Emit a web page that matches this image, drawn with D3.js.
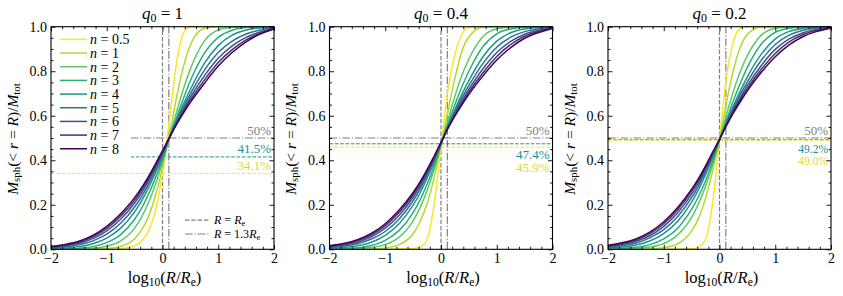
<!DOCTYPE html>
<html>
<head>
<meta charset="utf-8">
<script src="https://cdn.jsdelivr.net/npm/d3@7"></script>
<style>
  body { margin: 0; background: #fff; }
  svg { display: block; }
  svg text { font-family: "Liberation Serif", "Times New Roman", "DejaVu Serif", serif !important; }
</style>
</head>
<body>
<svg id="chart" width="843" height="296"></svg>
<script>
// log10(R/Re) sample positions
const logR = [-2, -1.75, -1.5, -1.25, -1, -0.75, -0.5, -0.375, -0.25, -0.125, 0, 0.125, 0.25, 0.375, 0.5, 0.75, 1, 1.25, 1.5, 1.75, 2]

const sersicN = ["0.5", "1", "2", "3", "4", "5", "6", "7", "8"]
const nColors = ["#fde725", "#addc30", "#5ec962", "#28ae80", "#21918c", "#2c728e", "#3b528b", "#472d7b", "#440154"]
const q0Labels = ["1", "0.4", "0.2"]

// M_sph(<r=R)/M_tot, one row per n
const fracQ1 = [
  [0, 0, 0, 0, 0, 0.003, 0.016, 0.037, 0.083, 0.175, 0.341, 0.582, 0.834, 0.971, 0.999, 1, 1, 1, 1, 1, 1],
  [0, 0, 0, 0.001, 0.004, 0.013, 0.047, 0.087, 0.148, 0.243, 0.365, 0.515, 0.68, 0.82, 0.918, 0.993, 1, 1, 1, 1, 1],
  [0, 0.001, 0.002, 0.005, 0.014, 0.038, 0.095, 0.145, 0.21, 0.293, 0.39, 0.505, 0.615, 0.72, 0.81, 0.935, 0.985, 0.997, 1, 1, 1],
  [0.001, 0.002, 0.005, 0.012, 0.03, 0.066, 0.135, 0.185, 0.248, 0.322, 0.405, 0.502, 0.59, 0.677, 0.757, 0.88, 0.952, 0.984, 0.996, 0.999, 1],
  [0.003, 0.006, 0.012, 0.025, 0.05, 0.095, 0.168, 0.217, 0.277, 0.345, 0.415, 0.5, 0.578, 0.652, 0.718, 0.835, 0.915, 0.962, 0.985, 0.995, 0.999],
  [0.006, 0.011, 0.02, 0.038, 0.068, 0.117, 0.19, 0.237, 0.294, 0.358, 0.425, 0.501, 0.572, 0.638, 0.698, 0.804, 0.884, 0.935, 0.967, 0.985, 0.996],
  [0.009, 0.016, 0.027, 0.048, 0.083, 0.135, 0.208, 0.254, 0.309, 0.369, 0.432, 0.502, 0.567, 0.627, 0.682, 0.779, 0.858, 0.914, 0.952, 0.976, 0.993],
  [0.011, 0.019, 0.032, 0.056, 0.094, 0.149, 0.221, 0.267, 0.319, 0.377, 0.438, 0.502, 0.563, 0.619, 0.67, 0.76, 0.839, 0.897, 0.941, 0.97, 0.992],
  [0.013, 0.022, 0.036, 0.062, 0.103, 0.16, 0.232, 0.277, 0.328, 0.384, 0.443, 0.503, 0.56, 0.612, 0.66, 0.745, 0.823, 0.884, 0.932, 0.967, 0.99]
]
const fracQ04 = [
  [0, 0, 0, 0, 0, 0.001, 0.004, 0.01, 0.045, 0.2, 0.459, 0.72, 0.875, 0.965, 0.996, 1, 1, 1, 1, 1, 1],
  [0, 0, 0.0005, 0.0015, 0.006, 0.021, 0.07, 0.125, 0.205, 0.32, 0.465, 0.62, 0.77, 0.89, 0.955, 0.998, 1, 1, 1, 1, 1],
  [0.001, 0.0015, 0.003, 0.008, 0.021, 0.055, 0.128, 0.187, 0.264, 0.356, 0.468, 0.58, 0.688, 0.782, 0.855, 0.955, 0.991, 0.998, 1, 1, 1],
  [0.0015, 0.003, 0.007, 0.017, 0.04, 0.085, 0.165, 0.222, 0.292, 0.373, 0.471, 0.563, 0.65, 0.73, 0.8, 0.91, 0.968, 0.99, 0.998, 1, 1],
  [0.004, 0.008, 0.016, 0.032, 0.063, 0.115, 0.198, 0.253, 0.32, 0.39, 0.474, 0.553, 0.628, 0.697, 0.758, 0.864, 0.935, 0.973, 0.99, 0.997, 1],
  [0.008, 0.014, 0.025, 0.046, 0.08, 0.136, 0.218, 0.27, 0.333, 0.4, 0.476, 0.55, 0.618, 0.68, 0.735, 0.834, 0.908, 0.953, 0.978, 0.991, 0.997],
  [0.011, 0.019, 0.032, 0.056, 0.095, 0.153, 0.234, 0.284, 0.344, 0.407, 0.478, 0.547, 0.61, 0.667, 0.718, 0.81, 0.884, 0.934, 0.966, 0.984, 0.995],
  [0.014, 0.023, 0.038, 0.064, 0.106, 0.166, 0.246, 0.295, 0.352, 0.413, 0.479, 0.545, 0.604, 0.657, 0.706, 0.792, 0.866, 0.92, 0.957, 0.979, 0.994],
  [0.016, 0.026, 0.043, 0.071, 0.115, 0.176, 0.255, 0.303, 0.358, 0.418, 0.48, 0.543, 0.599, 0.649, 0.696, 0.778, 0.85, 0.906, 0.948, 0.974, 0.992]
]
const fracQ02 = [
  [0, 0, 0, 0, 0, 0, 0.002, 0.01, 0.045, 0.205, 0.49, 0.775, 0.935, 0.993, 1, 1, 1, 1, 1, 1, 1],
  [0, 0, 0.0005, 0.002, 0.007, 0.025, 0.082, 0.14, 0.23, 0.35, 0.491, 0.66, 0.805, 0.91, 0.965, 0.999, 1, 1, 1, 1, 1],
  [0.001, 0.002, 0.004, 0.01, 0.026, 0.065, 0.143, 0.205, 0.283, 0.377, 0.491, 0.605, 0.71, 0.8, 0.87, 0.962, 0.993, 0.999, 1, 1, 1],
  [0.002, 0.004, 0.009, 0.021, 0.047, 0.095, 0.18, 0.237, 0.308, 0.393, 0.491, 0.58, 0.668, 0.747, 0.817, 0.922, 0.975, 0.993, 0.999, 1, 1],
  [0.005, 0.01, 0.019, 0.037, 0.07, 0.126, 0.212, 0.268, 0.336, 0.41, 0.492, 0.571, 0.645, 0.713, 0.775, 0.877, 0.945, 0.979, 0.993, 0.998, 1],
  [0.009, 0.016, 0.028, 0.051, 0.088, 0.147, 0.232, 0.285, 0.349, 0.419, 0.493, 0.566, 0.634, 0.696, 0.752, 0.849, 0.92, 0.962, 0.984, 0.994, 0.998],
  [0.012, 0.021, 0.036, 0.061, 0.103, 0.164, 0.248, 0.299, 0.36, 0.426, 0.493, 0.562, 0.626, 0.683, 0.735, 0.826, 0.898, 0.945, 0.973, 0.988, 0.996],
  [0.015, 0.025, 0.042, 0.07, 0.115, 0.178, 0.261, 0.311, 0.369, 0.431, 0.494, 0.559, 0.619, 0.673, 0.722, 0.809, 0.88, 0.932, 0.965, 0.984, 0.995],
  [0.018, 0.029, 0.047, 0.077, 0.124, 0.188, 0.27, 0.319, 0.375, 0.435, 0.494, 0.556, 0.613, 0.664, 0.712, 0.795, 0.865, 0.918, 0.956, 0.979, 0.993]
]

// fractions at R = Re for n = 4 and n = 0.5, and the 50% level
const pctAtRe = [[0.415, 0.341], [0.474, 0.459], [0.492, 0.490]]
const pctText = [["41.5%", "34.1%"], ["47.4%", "45.9%"], ["49.2%", "49.0%"]]
const halfLevel = 0.5
const radiusRatios = [1, 1.3]

const xTicks = [-2, -1, 0, 1, 2]
const yTicks = [0, 0.2, 0.4, 0.6, 0.8, 1]

const panels = [fracQ1, fracQ04, fracQ02]
const panelLeft = [51, 329.5, 608]
const panelTop = 26.7
const pw = 223, ph = 222.6
const grey = "#808080"
const dashed = "4.4,1.9"
const dashDot = "7.7,1.9,1.2,1.9"
const serif = "'Liberation Serif', 'Times New Roman', 'DejaVu Serif', serif"

const svg = d3.select("#chart")

const x = d3.scaleLinear().domain([-2, 2]).range([0, pw])
const y = d3.scaleLinear().domain([0, 1]).range([ph, 0])

const line = d3.line()
  .x(d => x(d[0]))
  .y(d => y(d[1]))
  .curve(d3.curveMonotoneX)

const xMinor = d3.range(-2, 2.001, 0.2).filter(v => Math.abs(v - Math.round(v)) > 1e-6)
const yMinor = d3.range(0, 1.001, 0.05).filter(v => Math.abs(v * 5 - Math.round(v * 5)) > 1e-6)

function mathText(sel, parts, size) {
  // parts: [text, style] with style "i" italic, "s" subscript, "" upright
  sel.attr("font-family", serif)
  parts.forEach(([t, s]) => {
    const ts = sel.append("tspan").text(t)
    if (s === "i") ts.attr("font-style", "italic")
    if (s === "s") ts.attr("font-size", size * 0.7).attr("baseline-shift", "-22%")
  })
}

panels.forEach((frac, pi) => {
  const g = svg.append("g").attr("transform", `translate(${panelLeft[pi]},${panelTop})`)

  // reference lines
  radiusRatios.forEach((rr, k) => {
    g.append("line")
      .attr("x1", x(Math.log10(rr))).attr("x2", x(Math.log10(rr)))
      .attr("y1", y(0)).attr("y2", y(1))
      .attr("stroke", grey).attr("stroke-width", 1.2)
      .attr("stroke-dasharray", k === 0 ? dashed : dashDot)
  })
  g.append("line")
    .attr("x1", x(pi === 0 ? -0.57 : -2)).attr("x2", x(2))
    .attr("y1", y(halfLevel)).attr("y2", y(halfLevel))
    .attr("stroke", grey).attr("stroke-width", 1.2)
    .attr("stroke-dasharray", dashDot)
  const lvlColor = [nColors[4], nColors[0]]
  const txtColor = [nColors[4], "#e2d91f"]
  pctAtRe[pi].forEach((v, k) => {
    g.append("line")
      .attr("x1", x(-2)).attr("x2", x(2))
      .attr("y1", y(v)).attr("y2", y(v))
      .attr("stroke", lvlColor[k]).attr("stroke-width", 1)
      .attr("stroke-dasharray", "3.7,1.6")
  })

  // curves
  frac.forEach((row, i) => {
    g.append("path")
      .datum(logR.map((lx, j) => [lx, row[j]]))
      .attr("fill", "none")
      .attr("stroke", nColors[i])
      .attr("stroke-width", 1.5)
      .attr("d", line)
  })

  // percentage labels
  const lblX = pw - 3
  g.append("text").attr("x", lblX).attr("y", y(halfLevel) - 3).attr("font-family", serif)
    .attr("text-anchor", "end").attr("font-size", 13).style("fill", grey).text("50%")
  pctAtRe[pi].forEach((v, k) => {
    let yy
    if (pi === 0) yy = y(v) - 3.5
    else if (pi === 1) yy = y(pctAtRe[pi][0]) + (k === 0 ? 15 : 28.5)
    else yy = y(pctAtRe[pi][0]) + (k === 0 ? 13 : 25.5)
    g.append("text").attr("x", lblX).attr("y", yy).attr("font-family", serif)
      .attr("text-anchor", "end").attr("font-size", pi === 2 ? 11.5 : 13)
      .style("fill", txtColor[k]).text(pctText[pi][k])
  })

  // legends in first panel
  if (pi === 0) {
    g.append("rect").attr("x", 2).attr("y", 2).attr("width", 78).attr("height", 130)
      .attr("fill", "#fff")
    sersicN.forEach((n, i) => {
      const yy = 39.4 - panelTop + i * 13.67
      g.append("line").attr("x1", 9).attr("x2", 36).attr("y1", yy).attr("y2", yy)
        .attr("stroke", nColors[i]).attr("stroke-width", 1.5)
      const t = g.append("text").attr("x", 39).attr("y", yy).attr("dy", "0.35em").attr("font-size", 14)
      mathText(t, [["n", "i"], [" = " + n, ""]], 14)
    })
    const leg2 = [[dashed, [["R", "i"], [" = ", ""], ["R", "i"], ["e", "s"]]],
                  [dashDot, [["R", "i"], [" = 1.3", ""], ["R", "i"], ["e", "s"]]]]
    leg2.forEach(([da, parts], i) => {
      const yy = 220.2 - panelTop + i * 13.8
      g.append("line").attr("x1", 134).attr("x2", 159).attr("y1", yy).attr("y2", yy)
        .attr("stroke", grey).attr("stroke-width", 1.2).attr("stroke-dasharray", da)
      const t = g.append("text").attr("x", 163).attr("y", yy).attr("dy", "0.33em").attr("font-size", 12)
      mathText(t, parts, 12)
    })
  }

  // axes: inward ticks on all four sides
  const fmtX = d3.format("d")
  const fmtY = d3.format(".1f")
  g.append("g").attr("transform", `translate(0,${ph})`)
    .call(d3.axisBottom(x).tickValues(xTicks).tickSize(-4.5).tickPadding(4).tickFormat(fmtX))
  g.append("g").attr("transform", `translate(0,${ph})`)
    .call(d3.axisBottom(x).tickValues(xMinor).tickSize(-2.5).tickFormat(""))
  g.append("g").call(d3.axisTop(x).tickValues(xTicks).tickSize(-4.5).tickFormat(""))
  g.append("g").call(d3.axisTop(x).tickValues(xMinor).tickSize(-2.5).tickFormat(""))
  g.append("g")
    .call(d3.axisLeft(y).tickValues(yTicks).tickSize(-4.5).tickPadding(4).tickFormat(fmtY))
  g.append("g").call(d3.axisLeft(y).tickValues(yMinor).tickSize(-2.5).tickFormat(""))
  g.append("g").attr("transform", `translate(${pw},0)`)
    .call(d3.axisRight(y).tickValues(yTicks).tickSize(-4.5).tickFormat(""))
  g.append("g").attr("transform", `translate(${pw},0)`)
    .call(d3.axisRight(y).tickValues(yMinor).tickSize(-2.5).tickFormat(""))
  g.selectAll(".domain").remove()
  g.selectAll(".tick line").attr("stroke", "#000").attr("stroke-width", 0.9)
  g.selectAll("g").attr("font-family", serif)
  g.selectAll(".tick text").attr("font-family", serif)
    .attr("font-size", 14).style("fill", "#000")

  g.append("rect").attr("width", pw).attr("height", ph)
    .attr("fill", "none").attr("stroke", "#000").attr("stroke-width", 1.1)

  // titles and axis labels
  const title = g.append("text").attr("x", pw / 2).attr("y", 18.5 - panelTop)
    .attr("text-anchor", "middle").attr("font-size", 17)
  mathText(title, [["q", "i"], ["0", "s"], [" = " + q0Labels[pi], ""]], 17)

  const xl = g.append("text").attr("x", pw / 2 + 2).attr("y", 283 - panelTop)
    .attr("text-anchor", "middle").attr("font-size", 16.5)
  mathText(xl, [["log", ""], ["10", "s"], ["(", ""], ["R", "i"], ["/", ""], ["R", "i"], ["e", "s"], [")", ""]], 16.5)

  const yl = g.append("text")
    .attr("transform", `translate(${-33.5},${ph / 2 + 1}) rotate(-90)`)
    .attr("text-anchor", "middle").attr("font-size", 15.5)
  mathText(yl, [["M", "i"], ["sph", "s"], ["(< ", ""], ["r", "i"], [" = ", ""], ["R", "i"], [")/", ""], ["M", "i"], ["tot", "s"]], 15.5)
})
</script>
</body>
</html>
